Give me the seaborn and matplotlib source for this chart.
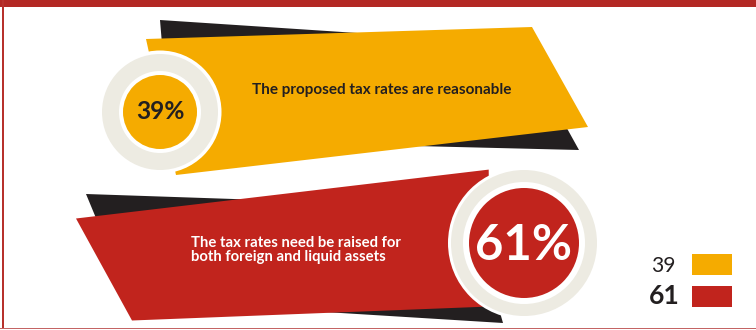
import matplotlib
matplotlib.use("Agg")
import matplotlib.pyplot as plt
from matplotlib.patches import Polygon, Circle, Rectangle
import seaborn as sns

# Survey answers (percent of respondents)
answers = [
    "The proposed tax rates are reasonable",
    "The tax rates need be raised for\nboth foreign and liquid assets",
]
shares = [39, 61]
colors = ["#F5AB00", "#C1241D"]

INK = "#231F20"
RING = "#EDEBE2"
FRAME = "#B32824"

sns.set_theme(style="white")
plt.rcParams["font.family"] = ["Lato", "DejaVu Sans"]

W, H = 756, 330
fig = plt.figure(figsize=(W / 100, H / 100), dpi=100)
ax = fig.add_axes([0, 0, 1, 1])
ax.set_xlim(0, W)
ax.set_ylim(H, 0)
ax.axis("off")

def pt(px):
    return px * 0.72

# frame
ax.add_patch(Rectangle((0, 0), W, 7, color=FRAME, lw=0, zorder=1))
ax.add_patch(Rectangle((1.5, 0), 2.5, 329, color="#B7312C", lw=0, zorder=1))
ax.add_patch(Rectangle((0, 327.8), W, 1.6, color="#C46464", lw=0, zorder=1))

# ---- first answer: yellow ribbon with badge on the left
ax.add_patch(Polygon([(160, 20), (520, 43.7), (579, 150), (170, 140)],
                     closed=True, color=INK, lw=0, zorder=2))
ax.add_patch(Polygon([(146, 39), (532, 27), (588, 127), (176, 175)],
                     closed=True, color=colors[0], lw=0, zorder=3))
cx, cy = 160, 112
ax.add_patch(Circle((cx, cy), 61.5, color="white", lw=0, zorder=4))
ax.add_patch(Circle((cx, cy), 58, color=RING, lw=0, zorder=5))
ax.add_patch(Circle((cx, cy), 41, color="white", lw=0, zorder=6))
ax.add_patch(Circle((cx, cy), 37, color=colors[0], lw=0, zorder=7))
ax.text(cx + 0.5, 119, f"{shares[0]}%", ha="center", va="baseline",
        fontsize=pt(24.5), fontweight="bold", color=INK, zorder=8)
ax.text(252, 94, answers[0], ha="left", va="baseline",
        fontsize=pt(15.3), fontweight="bold", color=INK, zorder=8)

# ---- second answer: red ribbon with badge on the right
ax.add_patch(Polygon([(86, 194), (470, 207), (503, 323), (130, 300)],
                     closed=True, color=INK, lw=0, zorder=2))
ax.add_patch(Polygon([(76, 218.5), (488.7, 169.6), (490, 306.5), (132, 320.5)],
                     closed=True, color=colors[1], lw=0, zorder=3))
cx, cy = 524, 243
ax.add_patch(Circle((cx, cy), 76, color="white", lw=0, zorder=4))
ax.add_patch(Circle((cx, cy), 73, color=RING, lw=0, zorder=5))
ax.add_patch(Circle((cx, cy), 61, color="white", lw=0, zorder=6))
ax.add_patch(Circle((cx, cy), 55, color=colors[1], lw=0, zorder=7))
ax.text(cx - 0.5, 260.5, f"{shares[1]}%", ha="center", va="baseline",
        fontsize=pt(49), fontweight="bold", color="white", zorder=8)
for i, line in enumerate(answers[1].split("\n")):
    ax.text(191, 246.8 + i * 13.7, line, ha="left", va="baseline",
            fontsize=pt(14.9), fontweight="bold", color="white", zorder=8)

# ---- key
ax.text(675.5, 271.8, str(shares[0]), ha="right", va="baseline",
        fontsize=pt(21), color=INK)
ax.text(679.5, 304.3, str(shares[1]), ha="right", va="baseline",
        fontsize=pt(26.5), fontweight="bold", color=INK)
ax.add_patch(Rectangle((692, 254), 40, 20.5, color=colors[0], lw=0))
ax.add_patch(Rectangle((692, 286), 40, 20.5, color=colors[1], lw=0))

fig.savefig("out.png", dpi=100)
